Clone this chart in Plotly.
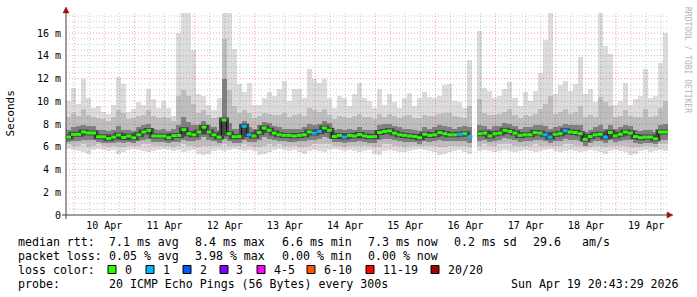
import plotly.graph_objects as go
from datetime import datetime, timedelta

# ---------------- data (2-hour consolidated steps, values in ms) ----------------
END_TIME = datetime(2026, 4, 19, 20, 43, 29)
N_STEPS = 120
STEP_HOURS = 2

median = [
    6.85, 7.09, 7.09, 7.30, 7.21, 7.21, 6.88, 6.88, 6.72, 6.85,
    7.03, 6.82, 6.95, 6.79, 7.05, 7.30, 7.44, 6.95, 6.94, 6.94,
    6.80, 6.98, 7.00, 7.50, 7.15, 7.05, 7.30, 7.72, 7.30, 7.05,
    6.85, 8.35, 7.15, 6.88, 6.90, 7.80, 7.05, 6.95, 7.25, 7.65,
    7.45, 7.20, 7.05, 7.00, 7.00, 6.95, 7.00, 7.05, 7.30, 7.20,
    7.35, 7.65, 7.45, 6.90, 7.00, 6.85, 7.00, 6.95, 7.08, 6.95,
    6.88, 6.90, 7.25, 7.35, 7.40, 7.20, 7.05, 7.00, 6.95, 6.90,
    6.80, 7.10, 7.00, 7.05, 7.25, 7.15, 7.05, 7.05, 7.10, 7.15,
    6.90, None, 7.15, 7.20, 6.95, 7.15, 7.20, 7.45, 7.35, 7.20,
    7.00, 7.05, 7.05, 7.25, 7.20, 7.05, 6.85, 7.10, 7.15, 7.40,
    7.30, 7.25, 7.15, 6.65, 6.90, 7.05, 7.10, 6.85, 7.25, 6.95,
    7.10, 7.30, 7.20, 6.90, 6.80, 6.85, 6.85, 6.70, 7.30, 7.30,
]

ping_max = [
    10.0, 11.2, 9.8, 12.0, 10.3, 9.4, 9.6, 9.1, 8.9, 9.7,
    12.1, 11.5, 9.1, 9.3, 9.9, 9.7, 11.1, 10.2, 9.4, 10.0,
    9.4, 8.7, 16.0, 17.8, 17.8, 14.5, 10.6, 10.5, 9.7, 9.2,
    10.3, 17.8, 17.8, 14.6, 11.5, 10.8, 11.6, 9.7, 9.7, 10.3,
    10.8, 10.5, 11.1, 11.8, 10.0, 11.1, 11.1, 10.3, 12.8, 12.0,
    11.6, 12.0, 10.3, 9.4, 10.5, 10.3, 9.6, 10.6, 11.6, 10.3,
    10.0, 9.4, 11.1, 9.7, 10.6, 9.9, 9.4, 10.3, 10.7, 9.6,
    10.3, 10.8, 10.4, 10.3, 10.5, 11.4, 11.5, 10.0, 9.9, 9.4,
    13.6, None, 16.2, 11.2, 10.9, 10.3, 10.5, 11.1, 11.7, 10.3,
    9.6, 10.8, 10.0, 10.9, 12.5, 15.4, 17.8, 10.6, 11.4, 11.8,
    10.9, 11.5, 13.9, 10.6, 11.1, 9.9, 17.8, 14.9, 14.2, 9.7,
    10.0, 11.6, 9.7, 10.2, 10.5, 12.8, 10.3, 10.5, 13.4, 16.0,
]

upper_mid = [
    8.6, 9.0, 8.7, 9.3, 8.8, 8.6, 8.5, 8.4, 8.3, 8.6,
    9.2, 9.0, 8.4, 8.5, 8.7, 8.8, 9.2, 8.7, 8.5, 8.6,
    8.5, 8.3, 10.5, 11.0, 10.5, 9.8, 9.0, 9.2, 8.8, 8.5,
    8.6, 15.5, 11.0, 9.6, 9.0, 9.2, 9.0, 8.5, 8.7, 9.0,
    8.9, 8.8, 8.8, 9.0, 8.6, 8.8, 8.9, 8.7, 9.4, 9.2,
    9.1, 9.3, 8.8, 8.4, 8.7, 8.6, 8.5, 8.7, 8.9, 8.6,
    8.6, 8.4, 8.9, 8.6, 8.9, 8.7, 8.5, 8.7, 8.8, 8.5,
    8.5, 8.8, 8.7, 8.7, 8.9, 9.0, 9.0, 8.7, 8.6, 8.5,
    9.6, None, 10.2, 9.0, 8.8, 8.8, 8.9, 9.1, 9.3, 8.8,
    8.5, 8.8, 8.7, 8.9, 9.3, 9.8, 10.5, 8.9, 9.1, 9.3,
    8.9, 9.1, 9.6, 8.6, 8.8, 8.6, 10.4, 9.9, 9.6, 8.6,
    8.7, 9.2, 8.7, 8.6, 8.6, 9.3, 8.6, 8.7, 9.4, 10.0,
]

upper_core = [
    7.5, 7.7, 7.8, 7.9, 7.8, 7.8, 7.5, 7.5, 7.4, 7.5,
    7.8, 7.5, 7.5, 7.4, 7.7, 7.9, 8.0, 7.6, 7.5, 7.6,
    7.4, 7.6, 7.9, 8.6, 8.2, 7.9, 7.9, 8.3, 7.9, 7.7,
    7.5, 12.0, 8.1, 7.6, 7.6, 8.3, 7.7, 7.6, 7.9, 8.2,
    8.1, 7.8, 7.7, 7.6, 7.6, 7.6, 7.6, 7.7, 8.0, 7.9,
    8.0, 8.3, 8.1, 7.5, 7.6, 7.5, 7.6, 7.5, 7.7, 7.5,
    7.5, 7.5, 7.9, 8.0, 8.0, 7.8, 7.7, 7.6, 7.6, 7.5,
    7.4, 7.7, 7.6, 7.7, 7.9, 7.8, 7.7, 7.6, 7.7, 7.8,
    7.7, None, 7.9, 7.8, 7.6, 7.8, 7.8, 8.1, 8.0, 7.8,
    7.6, 7.7, 7.7, 7.9, 7.9, 7.8, 7.6, 7.7, 7.8, 8.0,
    7.9, 7.9, 7.9, 7.3, 7.5, 7.7, 7.9, 7.6, 7.9, 7.6,
    7.7, 7.9, 7.8, 7.5, 7.4, 7.5, 7.5, 7.3, 7.9, 8.0,
]

lower_core = [
    6.4, 6.5, 6.5, 6.6, 6.6, 6.6, 6.4, 6.3, 6.3, 6.3,
    6.4, 6.3, 6.4, 6.3, 6.5, 6.6, 6.7, 6.4, 6.4, 6.4,
    6.3, 6.4, 6.4, 6.6, 6.5, 6.5, 6.6, 6.9, 6.6, 6.5,
    6.3, 6.7, 6.5, 6.3, 6.3, 6.6, 6.4, 6.4, 6.6, 6.9,
    6.7, 6.6, 6.5, 6.5, 6.4, 6.4, 6.5, 6.5, 6.6, 6.6,
    6.7, 6.9, 6.8, 6.4, 6.4, 6.3, 6.4, 6.4, 6.5, 6.4,
    6.3, 6.3, 6.6, 6.7, 6.7, 6.6, 6.5, 6.4, 6.4, 6.4,
    6.2, 6.5, 6.4, 6.5, 6.6, 6.5, 6.5, 6.5, 6.5, 6.5,
    6.3, None, 6.5, 6.6, 6.4, 6.5, 6.6, 6.8, 6.7, 6.6,
    6.4, 6.5, 6.5, 6.6, 6.6, 6.5, 6.3, 6.5, 6.5, 6.7,
    6.6, 6.6, 6.5, 6.1, 6.3, 6.5, 6.5, 6.3, 6.6, 6.4,
    6.5, 6.6, 6.6, 6.3, 6.2, 6.3, 6.3, 6.2, 6.6, 6.6,
]

lower_mid = [
    6.2, 6.1, 6.1, 6.2, 6.0, 6.1, 6.2, 6.1, 6.0, 6.1,
    6.0, 6.0, 6.1, 6.1, 6.1, 6.2, 6.2, 6.1, 6.1, 6.1,
    6.1, 6.0, 6.1, 6.2, 6.1, 6.1, 6.0, 6.1, 6.1, 6.1,
    6.1, 6.2, 6.1, 6.1, 6.1, 6.2, 6.1, 6.0, 6.0, 6.1,
    6.2, 6.1, 6.2, 6.1, 6.1, 6.1, 6.0, 6.0, 6.1, 6.2,
    6.2, 6.2, 6.2, 6.1, 6.1, 6.0, 6.1, 6.1, 6.1, 6.1,
    6.1, 6.0, 6.0, 6.2, 6.2, 6.1, 6.1, 6.0, 6.1, 6.1,
    6.1, 6.1, 6.1, 6.1, 6.0, 6.0, 6.1, 6.1, 6.1, 6.1,
    6.0, None, 6.1, 6.2, 6.1, 6.1, 6.2, 6.2, 6.2, 6.1,
    6.1, 6.1, 6.1, 6.2, 6.1, 6.1, 6.1, 6.1, 6.1, 6.2,
    6.2, 6.1, 6.1, 6.0, 6.0, 6.1, 6.1, 6.0, 6.1, 6.1,
    6.1, 6.1, 6.0, 6.0, 6.0, 6.1, 6.1, 6.0, 6.2, 6.2,
]

ping_min = [
    5.8, 5.7, 5.6, 5.5, 5.4, 5.7, 5.8, 5.7, 5.6, 5.7,
    5.4, 5.5, 5.7, 5.8, 5.7, 5.6, 5.5, 5.6, 5.7, 5.8,
    5.7, 5.6, 5.7, 5.5, 5.6, 5.7, 5.4, 5.3, 5.4, 5.6,
    5.7, 5.6, 5.7, 5.8, 5.7, 5.6, 5.7, 5.6, 5.3, 5.4,
    5.5, 5.7, 5.8, 5.7, 5.6, 5.7, 5.5, 5.4, 5.6, 5.7,
    5.6, 5.5, 5.7, 5.8, 5.7, 5.6, 5.7, 5.6, 5.5, 5.6,
    5.7, 5.4, 5.3, 5.6, 5.7, 5.6, 5.5, 5.5, 5.6, 5.7,
    5.8, 5.7, 5.6, 5.5, 5.3, 5.4, 5.5, 5.6, 5.7, 5.5,
    5.4, None, 5.6, 5.7, 5.6, 5.5, 5.6, 5.7, 5.6, 5.5,
    5.6, 5.7, 5.6, 5.5, 5.6, 5.7, 5.8, 5.6, 5.5, 5.6,
    5.7, 5.6, 5.5, 5.6, 5.7, 5.6, 5.5, 5.4, 5.6, 5.7,
    5.6, 5.5, 5.3, 5.4, 5.6, 5.7, 5.5, 5.6, 5.7, 5.6,
]

# lost pings (of 20) per step
loss = [
    0, 0, 0, 0, 0, 0, 0, 0, 0, 0,
    0, 0, 0, 0, 0, 0, 0, 0, 0, 0,
    0, 0, 0, 0, 0, 0, 0, 0, 0, 0,
    0, 0, 0, 0, 0, 1, 1, 0, 0, 0,
    0, 0, 0, 0, 0, 0, 0, 0, 0, 1,
    1, 0, 0, 0, 0, 1, 0, 0, 0, 0,
    0, 0, 0, 0, 0, 0, 0, 0, 0, 0,
    0, 0, 0, 0, 0, 0, 0, 0, 1, 0,
    1, 0, 0, 0, 0, 0, 0, 0, 0, 0,
    0, 0, 0, 0, 0, 1, 1, 0, 0, 1,
    0, 0, 0, 0, 0, 0, 0, 1, 0, 0,
    0, 0, 0, 0, 0, 0, 0, 0, 0, 0,
]

loss_labels = ["0", "1", "2", "3", "4-5", "6-10", "11-19", "20/20"]
loss_colors = ["#26ff00", "#00b8ff", "#0059ff", "#7e00ff", "#ff00ff", "#ff5500", "#ff0000", "#a10000"]

y_tick_vals = [0, 2, 4, 6, 8, 10, 12, 14, 16]
y_tick_text = ["0", "2\u00a0m", "4\u00a0m", "6\u00a0m", "8\u00a0m", "10\u00a0m", "12\u00a0m", "14\u00a0m", "16\u00a0m"]
day_labels = ["10 Apr", "11 Apr", "12 Apr", "13 Apr", "14 Apr", "15 Apr", "16 Apr", "17 Apr", "18 Apr", "19 Apr"]

stats_rtt = ["7.1 ms avg", "8.4 ms max", "6.6 ms min", "7.3 ms now", "0.2 ms sd", "29.6", "am/s"]
stats_loss = ["0.05 % avg", "3.98 % max", "0.00 % min", "0.00 % now"]
probe_text = "20 ICMP Echo Pings (56 Bytes) every 300s"
stamp_text = "Sun Apr 19 20:43:29 2026"

# ---------------- layout geometry ----------------
W, H = 697, 297
ML, MR, MT, MB = 66, 29, 12, 82
PW = W - ML - MR
PH = H - MT - MB
Y_TOP = 17.85

def px(xp):
    return (xp - ML) / PW

def py(yp):
    return (H - MB - yp) / PH

t_start = END_TIME - timedelta(days=10)
step = timedelta(hours=STEP_HOURS)
starts = [t_start + step * k for k in range(N_STEPS)]
centers = [s + step / 2 for s in starts]
step_ms = STEP_HOURS * 3600 * 1000

fig = go.Figure()

def band(lo, hi, color):
    h = [None if (a is None or b is None) else round(b - a, 3) for a, b in zip(lo, hi)]
    fig.add_trace(go.Bar(x=centers, y=h, base=lo, width=step_ms,
                         marker=dict(color=color, line=dict(width=0)),
                         hoverinfo="skip", showlegend=False))

band(ping_min, ping_max, "#dcdcdc")
band(lower_mid, upper_mid, "#bebebe")
band(lower_core, upper_core, "#808080")

# dark halo around the median, then thin step line
fig.add_trace(go.Scatter(x=starts + [END_TIME], y=median + [median[-1]],
                         mode="lines", line=dict(color="#444444", width=5, shape="hv"),
                         hoverinfo="skip", showlegend=False))
fig.add_trace(go.Scatter(x=starts + [END_TIME], y=median + [median[-1]],
                         mode="lines", line=dict(color="#111111", width=1, shape="hv"),
                         hoverinfo="skip", showlegend=False))

def loss_class(l):
    if l == 0: return 0
    if l == 1: return 1
    if l == 2: return 2
    if l == 3: return 3
    if l <= 5: return 4
    if l <= 10: return 5
    if l < 20: return 6
    return 7

for ci, col in enumerate(loss_colors):
    xs, ys = [], []
    for k in range(N_STEPS):
        if median[k] is None or loss_class(loss[k]) != ci:
            continue
        xs += [starts[k], starts[k] + step, None]
        ys += [median[k], median[k], None]
    if xs:
        fig.add_trace(go.Scatter(x=xs, y=ys, mode="lines",
                                 line=dict(color=col, width=3),
                                 hoverinfo="skip", showlegend=False))

shapes = []
# grid lines (drawn on top, dotted)
minor_col = "rgba(120,120,120,0.40)"
major_col = "rgba(255,0,0,0.38)"
v = 0.5
while v < Y_TOP:
    is_major = abs(v / 2 - round(v / 2)) < 1e-9
    shapes.append(dict(type="line", xref="paper", yref="y", x0=0, x1=1, y0=v, y1=v,
                       line=dict(color=major_col if is_major else minor_col, width=1, dash="1px,2px"),
                       layer="above"))
    v += 0.5
g = datetime(2026, 4, 10, 0, 0, 0)
while g < END_TIME:
    is_major = g.hour == 0
    shapes.append(dict(type="line", xref="x", yref="paper", x0=g, x1=g, y0=0, y1=1,
                       line=dict(color=major_col if is_major else minor_col, width=1, dash="1px,2px"),
                       layer="above"))
    g += timedelta(hours=6)

# axes lines with arrows
axis_col = "#404040"
shapes.append(dict(type="line", xref="paper", yref="paper", x0=px(62), x1=px(669), y0=0, y1=0,
                   line=dict(color=axis_col, width=1), layer="above"))
shapes.append(dict(type="line", xref="paper", yref="paper", x0=0, x1=0, y0=py(219), y1=py(11),
                   line=dict(color=axis_col, width=1), layer="above"))
arrow_col = "#9b1111"
shapes.append(dict(type="path", xref="paper", yref="paper",
                   path=f"M {px(667)} {py(212)} L {px(673)} {py(215)} L {px(667)} {py(218)} Z",
                   fillcolor=arrow_col, line=dict(color=arrow_col, width=0.5), layer="above"))
shapes.append(dict(type="path", xref="paper", yref="paper",
                   path=f"M {px(63)} {py(13)} L {px(66)} {py(7)} L {px(69)} {py(13)} Z",
                   fillcolor=arrow_col, line=dict(color=arrow_col, width=0.5), layer="above"))

annotations = []
FONT = "DejaVu Sans Mono"
FS = 11.6

def txt(xp, yp, s, anchor="left", size=FS, color="#000000", angle=0):
    annotations.append(dict(xref="paper", yref="paper", x=px(xp), y=py(yp), text=s,
                            showarrow=False, xanchor=anchor, yanchor="middle", textangle=angle,
                            font=dict(family=FONT, size=size, color=color)))

rows_y = [241.5, 255.5, 269.5, 283.5]
txt(16, rows_y[0], "median rtt:")
for xp, s in zip([107, 193, 280, 366, 452, 531, 580], stats_rtt):
    txt(xp, rows_y[0], s)
txt(16, rows_y[1], "packet loss:")
for xp, s in zip([107, 193, 280, 366], stats_loss):
    txt(xp, rows_y[1], s)
txt(16, rows_y[2], "loss color:")
box_x = [108, 146, 183, 220, 257, 307, 366, 431]
for bx, lab, col in zip(box_x, loss_labels, loss_colors):
    shapes.append(dict(type="rect", xref="paper", yref="paper",
                       x0=px(bx), x1=px(bx + 8), y0=py(273.5), y1=py(265.5),
                       fillcolor=col, line=dict(color="#000000", width=1), layer="above"))
    txt(bx + 14.5, rows_y[2], lab)
txt(16, rows_y[3], "probe:")
txt(107, rows_y[3], probe_text)
txt(681, rows_y[3], stamp_text, anchor="right")

# y axis title and watermark
txt(10, 113.5, "Seconds", anchor="center", size=11, angle=-90)
annotations.append(dict(xref="paper", yref="paper", x=px(688), y=py(60), text="RRDTOOL / TOBI OETIKER",
                        showarrow=False, xanchor="center", yanchor="middle", textangle=90,
                        font=dict(family=FONT, size=8, color="#b4b4b4")))

noon_ticks = [datetime(2026, 4, 10 + i, 12, 0, 0) for i in range(len(day_labels))]

fig.update_layout(
    width=W, height=H,
    margin=dict(l=ML, r=MR, t=MT, b=MB, pad=0),
    paper_bgcolor="#ffffff", plot_bgcolor="#ffffff",
    barmode="overlay", bargap=0,
    showlegend=False,
    shapes=shapes, annotations=annotations,
    xaxis=dict(type="date", range=[t_start, END_TIME], tickvals=noon_ticks, ticktext=day_labels,
               showgrid=False, zeroline=False, showline=False, ticks="", ticklabelstandoff=3,
               tickfont=dict(family=FONT, size=10, color="#000000"), fixedrange=True),
    yaxis=dict(range=[0, Y_TOP], tickvals=y_tick_vals, ticktext=y_tick_text,
               showgrid=False, zeroline=False, showline=False, ticks="", ticklabelstandoff=4,
               tickfont=dict(family=FONT, size=10, color="#000000"), fixedrange=True),
)

fig.write_html("out.html", config={"displayModeBar": False})
